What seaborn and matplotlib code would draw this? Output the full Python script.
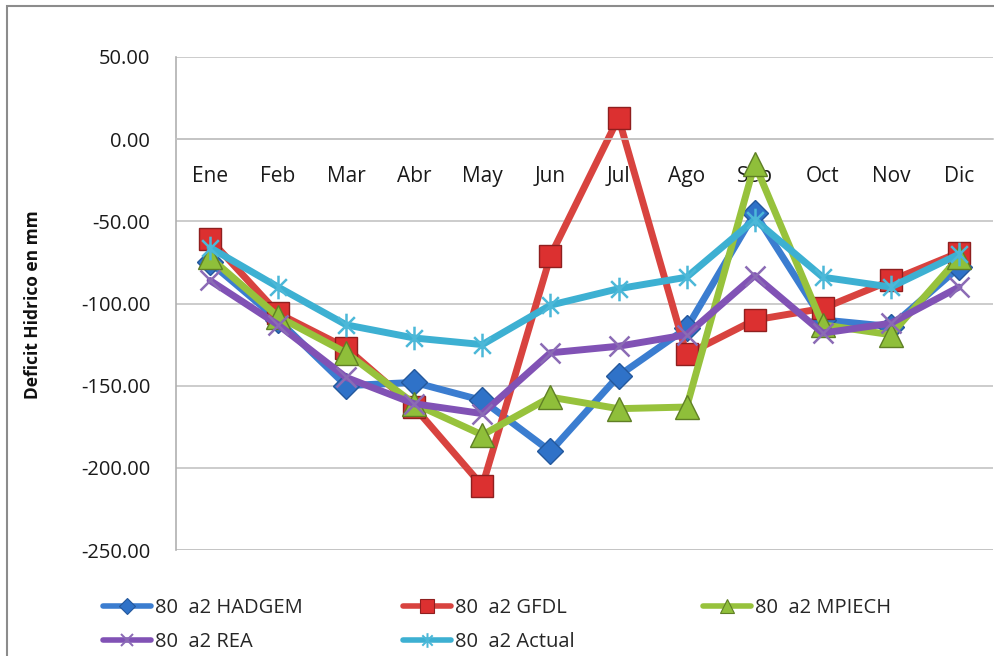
import numpy as np
import pandas as pd
import matplotlib
matplotlib.use("Agg")
import matplotlib.pyplot as plt
from matplotlib.patches import Rectangle
from matplotlib.lines import Line2D
from matplotlib.path import Path
import seaborn as sns

# Monthly water deficit (mm) per climate scenario
months = ["Ene", "Feb", "Mar", "Abr", "May", "Jun", "Jul", "Ago", "Sep", "Oct", "Nov", "Dic"]
hadgem = [-75, -110, -150, -148, -159, -190, -144, -115, -45, -110, -114, -78]
gfdl = [-61, -106, -127, -163, -211, -71, 13, -131, -110, -103, -86, -69]
mpiech = [-72, -108, -130, -161, -180, -157, -164, -163, -15, -113, -119, -72]
rea = [-86, -113, -145, -161, -167, -130, -126, -119, -83, -118, -112, -90]
actual = [-66, -90, -113, -121, -125, -101, -91, -84, -49, -84, -90, -70]

series_names = ["80  a2 HADGEM", "80  a2 GFDL", "80  a2 MPIECH", "80  a2 REA", "80  a2 Actual"]
series_values = [hadgem, gfdl, mpiech, rea, actual]

sns.set_theme(style="white")
plt.rcParams["font.family"] = ["Open Sans", "DejaVu Sans"]

# star marker: an X crossed by a vertical bar
d = 0.7071
star = Path([(-d, -d), (d, d), (-d, d), (d, -d), (0, -1), (0, 1)],
            [Path.MOVETO, Path.LINETO, Path.MOVETO, Path.LINETO, Path.MOVETO, Path.LINETO])

styles = {
    "80  a2 HADGEM": dict(color="#3b7dd0", marker="D", ms=13, mfc="#2f72c8", mec="#24589c", mew=1.0),
    "80  a2 GFDL": dict(color="#d8433f", marker="s", ms=16, mfc="#dc3030", mec="#8f1f1f", mew=1.0),
    "80  a2 MPIECH": dict(color="#97c23c", marker="^", ms=17, mfc="#8fbf3a", mec="#5f7f25", mew=1.0),
    "80  a2 REA": dict(color="#8152b5", marker="x", ms=15, mfc="#8152b5", mec="#8b6bb5", mew=1.8),
    "80  a2 Actual": dict(color="#3db0d2", marker=star, ms=17, mfc="#3db0d2", mec="#4cb8d8", mew=1.8),
}

df = pd.DataFrame({
    "mes": np.tile(np.arange(len(months)), len(series_names)),
    "deficit": np.concatenate(series_values),
    "serie": np.repeat(series_names, len(months)),
})

fig = plt.figure(figsize=(9.95, 6.56), dpi=100)
ax = fig.add_axes([176 / 995, 1 - 550 / 656, 1 - 178 / 995, (550 - 57) / 656])

for name in series_names:
    st = styles[name]
    sub = df[df["serie"] == name]
    sns.lineplot(data=sub, x="mes", y="deficit", ax=ax, sort=False,
                 color=st["color"], linewidth=5, marker=st["marker"],
                 markersize=st["ms"], markerfacecolor=st["mfc"],
                 markeredgecolor=st["mec"], markeredgewidth=st["mew"],
                 legend=False)

ax.set_xlim(-0.5, len(months) - 0.5)
ax.set_ylim(-250, 50)
yt = np.arange(-250, 51, 50)
ax.set_yticks(yt)
ax.set_yticklabels([f"{v:.2f}" for v in yt])
ax.set_xticks(np.arange(len(months)))
ax.set_xticklabels(months)
ax.yaxis.grid(True, color="#c4c4c4", linewidth=1.2)
ax.xaxis.grid(False)
ax.set_axisbelow(True)

# category axis crosses the value axis at zero
ax.spines["bottom"].set_position(("data", 0))
ax.spines["bottom"].set_color("#c4c4c4")
ax.spines["bottom"].set_linewidth(1.2)
ax.spines["left"].set_color("#b0b0b0")
ax.spines["left"].set_linewidth(1.2)
ax.spines["right"].set_visible(False)
ax.spines["top"].set_visible(False)
ax.axhline(-250, color="#c4c4c4", linewidth=1.2, zorder=0)

ax.tick_params(axis="y", length=0, pad=18.5, labelsize=14.5, labelcolor="#1a1a1a")
ax.tick_params(axis="x", length=0, pad=19, labelsize=15, labelcolor="#1a1a1a")
ax.set_xlabel("")
ax.set_ylabel("")
fig.text(33 / 995, 1 - 305 / 656, "Deficit Hidrico en mm", rotation=90,
         ha="center", va="center", fontsize=12.5, fontweight="bold", color="#111111")

# legend below the plot, one column of entries per block
columns = [["80  a2 HADGEM", "80  a2 REA"], ["80  a2 GFDL", "80  a2 Actual"], ["80  a2 MPIECH"]]
col_x = [103, 403, 703]
for names, x0 in zip(columns, col_x):
    handles = []
    for name in names:
        st = styles[name]
        handles.append(Line2D([0], [0], color=st["color"], linewidth=4, marker=st["marker"],
                              markersize=st["ms"] * 0.62, markerfacecolor=st["mfc"],
                              markeredgecolor=st["mec"], markeredgewidth=st["mew"] * 0.8))
    fig.legend(handles, names, loc="upper left",
               bbox_to_anchor=(x0 / 995, 1 - 598 / 656), frameon=False,
               fontsize=14.5, handlelength=2.4, handletextpad=0.2,
               labelspacing=0.7, borderpad=0, borderaxespad=0)

# outer chart border
fig.patches.append(Rectangle((7 / 995, -0.1), 1.2, 1 - 6 / 656 + 0.1,
                             transform=fig.transFigure, fill=False,
                             edgecolor="#8c8c8c", linewidth=1.5))

fig.savefig("out.png", dpi=100, facecolor="white")
